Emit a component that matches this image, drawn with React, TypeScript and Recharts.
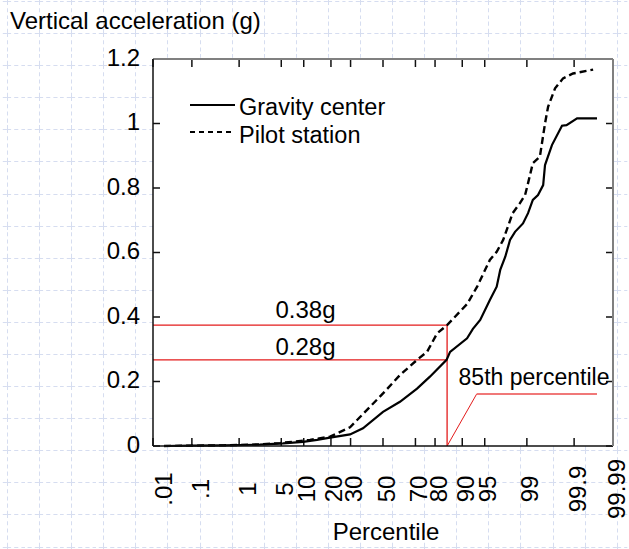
import React from 'react';
import { LineChart, Line, XAxis, YAxis, ReferenceLine, ReferenceDot, Legend, Label } from 'recharts';

// ---- data ----
const tickPercentiles = [0.01, 0.1, 1, 5, 10, 20, 30, 50, 70, 80, 90, 95, 99, 99.9, 99.99];
const tickLabels = ['.01', '.1', '1', '5', '10', '20', '30', '50', '70', '80', '90', '95', '99', '99.9', '99.99'];
const yTicks = [0, 0.2, 0.4, 0.6, 0.8, 1, 1.2];
const yTickLabels = ['0', '0.2', '0.4', '0.6', '0.8', '1', '1.2'];

const gravityPct = [0.02, 0.1, 0.5, 2.3, 5.3, 9.8, 14.3, 19.6, 29.7, 37.3, 50, 60.8, 70.9, 77.6, 84.8, 86.1, 91.3, 92.7, 94.2, 95.8, 96.7, 97.1, 97.6, 98.0, 98.36, 98.82, 99.05, 99.23, 99.39, 99.52, 99.56, 99.685, 99.81, 99.85, 99.915, 99.973];
const gravityG = [0, 0.001, 0.002, 0.004, 0.008, 0.013, 0.019, 0.026, 0.036, 0.055, 0.106, 0.137, 0.178, 0.215, 0.267, 0.292, 0.334, 0.363, 0.391, 0.453, 0.494, 0.546, 0.587, 0.639, 0.664, 0.69, 0.722, 0.763, 0.778, 0.809, 0.871, 0.933, 0.993, 0.995, 1.016, 1.016];

const pilotPct = [0.02, 0.5, 2.3, 4.8, 11.9, 19.6, 22.8, 29.7, 39.8, 50, 60.8, 70.9, 76.2, 80.9, 85, 91.3, 93.6, 95.8, 96.7, 97.4, 98.2, 98.66, 98.92, 99.05, 99.23, 99.44, 99.56, 99.62, 99.73, 99.82, 99.894, 99.966];
const pilotG = [0, 0.002, 0.005, 0.009, 0.019, 0.029, 0.039, 0.058, 0.112, 0.163, 0.22, 0.267, 0.292, 0.349, 0.375, 0.44, 0.494, 0.577, 0.602, 0.639, 0.722, 0.753, 0.778, 0.815, 0.877, 0.897, 1.0, 1.052, 1.109, 1.14, 1.155, 1.167];

const markerPct = 85;
const gravityAt85 = 0.267;
const pilotAt85 = 0.375;
const calloutKneePct = 93.5;
const calloutEndPct = 99.973;
const calloutG = 0.161;
const valueLabelPct = 10.5;
const calloutLabelPct = 99.27;

// ---- probability scale (inverse normal CDF) ----
function probit(p: number): number {
  const a = [-3.969683028665376e1, 2.209460984245205e2, -2.759285104469687e2, 1.38357751867269e2, -3.066479806614716e1, 2.506628277459239];
  const b = [-5.447609879822406e1, 1.615858368580409e2, -1.556989798598866e2, 6.680131188771972e1, -1.328068155288572e1];
  const c = [-7.784894002430293e-3, -3.223964580411365e-1, -2.400758277161838, -2.549732539343734, 4.374664141464968, 2.938163982698783];
  const d = [7.784695709041462e-3, 3.224671290700398e-1, 2.445134137142996, 3.754408661907416];
  const pl = 0.02425;
  if (p < pl) {
    const q = Math.sqrt(-2 * Math.log(p));
    return (((((c[0] * q + c[1]) * q + c[2]) * q + c[3]) * q + c[4]) * q + c[5]) / ((((d[0] * q + d[1]) * q + d[2]) * q + d[3]) * q + 1);
  }
  if (p <= 1 - pl) {
    const q = p - 0.5;
    const r = q * q;
    return ((((((a[0] * r + a[1]) * r + a[2]) * r + a[3]) * r + a[4]) * r + a[5]) * q) / (((((b[0] * r + b[1]) * r + b[2]) * r + b[3]) * r + b[4]) * r + 1);
  }
  const q = Math.sqrt(-2 * Math.log(1 - p));
  return -(((((c[0] * q + c[1]) * q + c[2]) * q + c[3]) * q + c[4]) * q + c[5]) / ((((d[0] * q + d[1]) * q + d[2]) * q + d[3]) * q + 1);
}
const zOf = (pct: number) => probit(pct / 100);

const xTickZ = tickPercentiles.map(zOf);
const zMin = zOf(tickPercentiles[0]);
const zMax = zOf(tickPercentiles[tickPercentiles.length - 1]);
const yMin = yTicks[0];
const yMax = yTicks[yTicks.length - 1];

const gravityData = gravityPct.map((p, i) => ({ z: zOf(p), g: gravityG[i] }));
const pilotData = pilotPct.map((p, i) => ({ z: zOf(p), g: pilotG[i] }));

// plot geometry (px) used to express inward tick-mark length in axis units
const PLOT_W = 460;
const PLOT_H = 387;
const tickLenY = ((yMax - yMin) * 8) / PLOT_H;
const tickLenX = ((zMax - zMin) * 7) / PLOT_W;

const FONT = "'Liberation Sans', Arial, Helvetica, sans-serif";
const RED = '#e31b1b';
const TICK_COLOR = '#111';
const TICK_W = 1.5;

const gridSvg = `<svg xmlns='http://www.w3.org/2000/svg' width='32.1' height='32.1'><path d='M0.5 0V32.1M0 0.5H32.1' stroke='#d6ddf0' stroke-width='1' stroke-dasharray='4 3' fill='none'/></svg>`;
const gridUrl = `url("data:image/svg+xml;utf8,${encodeURIComponent(gridSvg)}")`;

const labelShift: Record<string, number> = { '.01': 10, '.1': 9, '1': 8 };

// tick label components: axes use tickSize 0 / tickMargin 0, so (x, y) sits on the axis line
const BottomTick = (props: any) => {
  const { x, y, index } = props;
  const lbl = tickLabels[index];
  const cx = x + (labelShift[lbl] ?? 3);
  const cy = y + 43;
  return (
    <text x={cx} y={cy} transform={`rotate(-90, ${cx}, ${cy})`} textAnchor="middle" dominantBaseline="central" fontSize={24} fontFamily={FONT} fill="#000">
      {lbl}
    </text>
  );
};

const LeftTick = (props: any) => {
  const { x, y, index } = props;
  return (
    <text x={x - 13} y={y - 2} textAnchor="end" dominantBaseline="central" fontSize={24} fontFamily={FONT} fill="#000">
      {yTickLabels[index]}
    </text>
  );
};

const EmptyTick = () => <g />;

const LegendContent = () => (
  <svg width={200} height={60} style={{ display: 'block' }}>
    <line x1={0} y1={15} x2={45} y2={15} stroke="#000" strokeWidth={2} />
    <text x={49} y={25} fontSize={23.5} fontFamily={FONT} fill="#000">Gravity center</text>
    <line x1={0} y1={42} x2={45} y2={42} stroke="#000" strokeWidth={2} strokeDasharray="5 4" />
    <text x={49} y={53} fontSize={23.5} fontFamily={FONT} fill="#000">Pilot station</text>
  </svg>
);

export default function App() {
  return (
    <div
      style={{
        position: 'absolute',
        left: 0,
        top: 0,
        width: 629,
        height: 549,
        backgroundColor: '#fff',
        backgroundImage: `linear-gradient(#fff, #fff), ${gridUrl}`,
        backgroundSize: `${PLOT_W}px ${PLOT_H}px, 32.1px 32.1px`,
        backgroundPosition: '153px 59px, 7px 1px',
        backgroundRepeat: 'no-repeat, repeat',
        fontFamily: FONT,
      }}
    >
      <LineChart width={629} height={549} margin={{ top: 59, right: 16, bottom: 0, left: 93 }}>
        <XAxis
          type="number"
          dataKey="z"
          domain={[zMin, zMax]}
          ticks={xTickZ}
          interval={0}
          allowDataOverflow
          height={103}
          tickSize={0}
          tickMargin={0}
          tick={<BottomTick />}
          tickLine={false}
          axisLine={{ stroke: '#111', strokeWidth: 1.5 }}
        >
          <Label value="Percentile" position="insideBottom" offset={9} dx={3} fontSize={24} fontFamily={FONT} fill="#000" />
        </XAxis>
        <XAxis
          xAxisId="top"
          orientation="top"
          mirror
          type="number"
          domain={[zMin, zMax]}
          ticks={xTickZ}
          interval={0}
          allowDataOverflow
          height={30}
          tickSize={0}
          tickMargin={0}
          tick={EmptyTick}
          tickLine={false}
          axisLine={{ stroke: '#808080', strokeWidth: 2 }}
        />
        <YAxis
          type="number"
          domain={[yMin, yMax]}
          ticks={yTicks}
          interval={0}
          width={60}
          tickSize={0}
          tickMargin={0}
          tick={<LeftTick />}
          tickLine={false}
          axisLine={{ stroke: '#111', strokeWidth: 1.5 }}
        >
          <Label
            content={() => (
              <text x={10} y={29} fontSize={24} fontFamily={FONT} fill="#000">
                Vertical acceleration (g)
              </text>
            )}
          />
        </YAxis>
        <YAxis
          yAxisId="right"
          orientation="right"
          mirror
          type="number"
          domain={[yMin, yMax]}
          ticks={yTicks}
          interval={0}
          width={30}
          tickSize={0}
          tickMargin={0}
          tick={EmptyTick}
          tickLine={false}
          axisLine={{ stroke: '#808080', strokeWidth: 2 }}
        />
        <Legend
          layout="horizontal"
          verticalAlign="middle"
          align="center"
          content={<LegendContent />}
          wrapperStyle={{ position: 'absolute', left: 190, top: 90, width: 200, height: 60 }}
        />

        {/* inward tick marks on all four sides */}
        {xTickZ.map((z, i) => (
          <ReferenceLine key={`xb${i}`} segment={[{ x: z, y: yMin }, { x: z, y: yMin + tickLenY }]} stroke={TICK_COLOR} strokeWidth={TICK_W} ifOverflow="visible" />
        ))}
        {xTickZ.map((z, i) => (
          <ReferenceLine key={`xt${i}`} segment={[{ x: z, y: yMax }, { x: z, y: yMax - tickLenY }]} stroke={TICK_COLOR} strokeWidth={TICK_W} ifOverflow="visible" />
        ))}
        {yTicks.map((v, i) => (
          <ReferenceLine key={`yl${i}`} segment={[{ x: zMin, y: v }, { x: zMin + tickLenX, y: v }]} stroke={TICK_COLOR} strokeWidth={TICK_W} ifOverflow="visible" />
        ))}
        {yTicks.map((v, i) => (
          <ReferenceLine key={`yr${i}`} segment={[{ x: zMax, y: v }, { x: zMax - tickLenX, y: v }]} stroke={TICK_COLOR} strokeWidth={TICK_W} ifOverflow="visible" />
        ))}

        <ReferenceLine segment={[{ x: zMin, y: pilotAt85 }, { x: zOf(markerPct), y: pilotAt85 }]} stroke={RED} strokeWidth={1.3} ifOverflow="visible" />
        <ReferenceLine segment={[{ x: zMin, y: gravityAt85 }, { x: zOf(markerPct), y: gravityAt85 }]} stroke={RED} strokeWidth={1.3} ifOverflow="visible" />
        <ReferenceLine segment={[{ x: zOf(markerPct), y: 0 }, { x: zOf(markerPct), y: pilotAt85 }]} stroke={RED} strokeWidth={1.3} ifOverflow="visible" />
        <ReferenceLine segment={[{ x: zOf(markerPct), y: 0 }, { x: zOf(calloutKneePct), y: calloutG }]} stroke={RED} strokeWidth={1} ifOverflow="visible" />
        <ReferenceLine segment={[{ x: zOf(calloutKneePct), y: calloutG }, { x: zOf(calloutEndPct), y: calloutG }]} stroke="#f07878" strokeWidth={2} ifOverflow="visible" />

        <Line data={pilotData} dataKey="g" name="Pilot station" type="linear" stroke="#000" strokeWidth={2.4} strokeDasharray="7 4" dot={false} activeDot={false} isAnimationActive={false} />
        <Line data={gravityData} dataKey="g" name="Gravity center" type="linear" stroke="#000" strokeWidth={2.2} dot={false} activeDot={false} isAnimationActive={false} />

        <ReferenceDot x={zOf(valueLabelPct)} y={pilotAt85} r={0} fill="none" stroke="none" ifOverflow="visible"
          label={{ value: '0.38g', position: 'top', offset: 7, fontSize: 24, fontFamily: FONT, fill: '#000' }} />
        <ReferenceDot x={zOf(valueLabelPct)} y={gravityAt85} r={0} fill="none" stroke="none" ifOverflow="visible"
          label={{ value: '0.28g', position: 'top', offset: 5, fontSize: 24, fontFamily: FONT, fill: '#000' }} />
        <ReferenceDot x={zOf(calloutLabelPct)} y={calloutG} r={0} fill="none" stroke="none" ifOverflow="visible"
          label={{ value: '85th percentile', position: 'top', offset: 9, fontSize: 23, fontFamily: FONT, fill: '#000' }} />
      </LineChart>
    </div>
  );
}
